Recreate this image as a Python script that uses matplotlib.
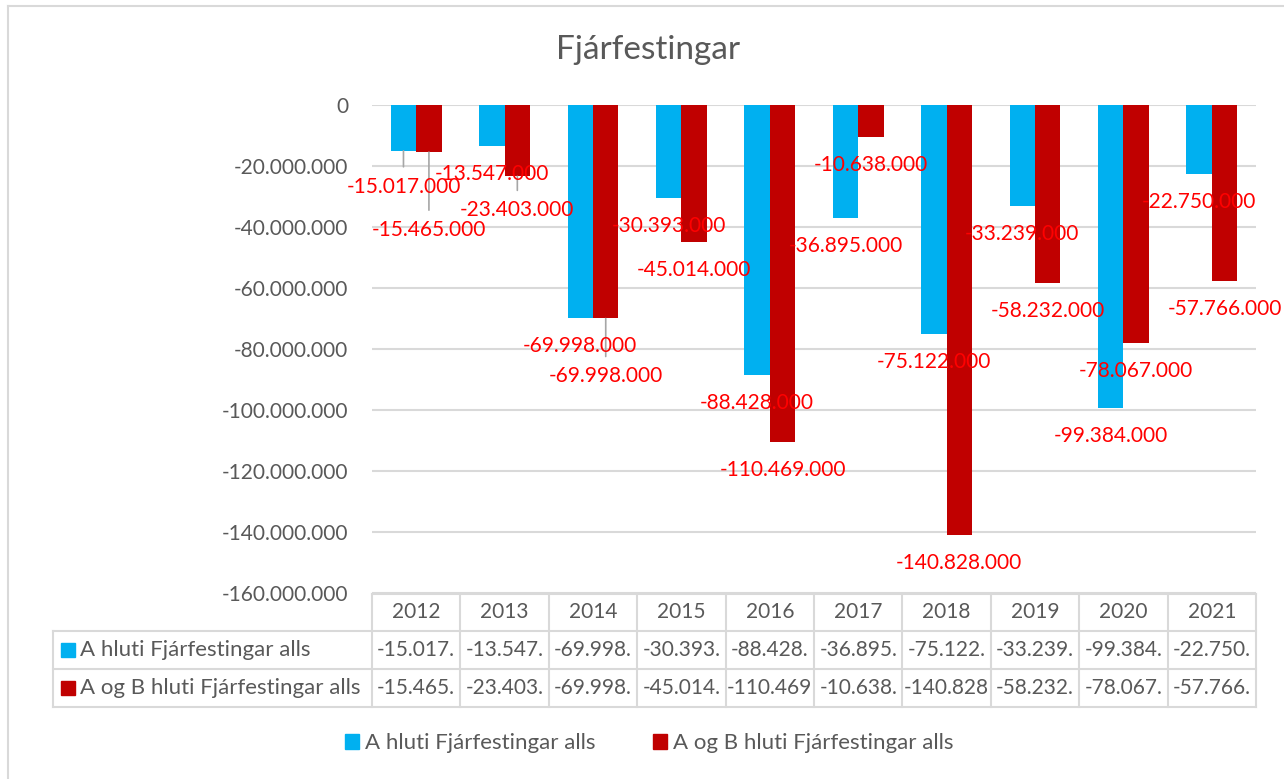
import numpy as np
import matplotlib
matplotlib.use('Agg')
import matplotlib.pyplot as plt
from matplotlib.patches import Patch
from matplotlib.lines import Line2D
from matplotlib.transforms import blended_transform_factory

plt.rcParams['font.family'] = ['Lato', 'DejaVu Sans']

# data
years = ['2012', '2013', '2014', '2015', '2016', '2017', '2018', '2019', '2020', '2021']
a_hluti = [-15017000, -13547000, -69998000, -30393000, -88428000,
           -36895000, -75122000, -33239000, -99384000, -22750000]
a_og_b = [-15465000, -23403000, -69998000, -45014000, -110469000,
          -10638000, -140828000, -58232000, -78067000, -57766000]
series_names = ['A hluti Fjárfestingar alls', 'A og B hluti Fjárfestingar alls']
yticks = [0, -20000000, -40000000, -60000000, -80000000,
          -100000000, -120000000, -140000000, -160000000]

# label drop below bar end (pixels), some labels were moved by hand in excel
drop_a = [36, 28, 28, 28, 28, 28, 28, 28, 28, 28]
drop_b = [78, 34, 58, 28, 28, 28, 28, 28, 28, 28]

blue = '#00B0F0'
red = '#C00000'
grey_txt = '#595959'
grid_c = '#D9D9D9'

def fmt(v):
    return '{:,.0f}'.format(v).replace(',', '.')

W, H = 1284, 779
fig = plt.figure(figsize=(W/100, H/100), dpi=100)
ax = fig.add_axes([372/W, 1-593/H, 884/W, 488/H])

x = np.arange(len(years))
bw = 0.288
ax.bar(x - bw/2, a_hluti, bw, color=blue, zorder=2)
ax.bar(x + bw/2, a_og_b, bw, color=red, zorder=2)

ax.set_xlim(-0.5, len(years) - 0.5)
ax.set_ylim(-160000000, 0)
ax.set_yticks(yticks)
ax.set_yticklabels([fmt(v) for v in yticks], fontsize=15, color=grey_txt)
ax.set_xticks([])
ax.tick_params(axis='y', length=0, pad=17)
ax.grid(axis='y', color=grid_c, lw=1.5, zorder=0)
for s in ax.spines.values():
    s.set_visible(False)

# data labels + leader lines
for vals, off, drops in [(a_hluti, -bw/2, drop_a), (a_og_b, bw/2, drop_b)]:
    for i, v in enumerate(vals):
        ax.annotate(fmt(v), (x[i] + off, v), xytext=(0, -drops[i]),
                    textcoords='offset pixels', ha='center', va='center',
                    fontsize=15, color='#FF0000', zorder=5, annotation_clip=False)
        if drops[i] > 30:
            ax.annotate('', (x[i] + off, v), xytext=(0, -(drops[i] - 20)),
                        textcoords='offset pixels',
                        arrowprops=dict(arrowstyle='-', color='#A6A6A6', lw=1.2,
                                        shrinkA=0, shrinkB=0), zorder=3)

# data table under the axis
tr = blended_transform_factory(ax.transData, ax.transAxes)
def ay(p):
    return (593 - p) / 488.0
left = -0.5 - (372 - 53) / 88.4
right = len(years) - 0.5
y_head_top, y_head_bot, y_r1, y_r2 = ay(594), ay(631), ay(669), ay(707)
lkw = dict(color=grid_c, lw=1.5, transform=tr, clip_on=False)
for yy in [y_head_bot, y_r1, y_r2]:
    ax.plot([left, right], [yy, yy], **lkw)
ax.plot([-0.5, right], [y_head_top, y_head_top], **lkw)
for b in np.arange(-0.5, right + 0.01, 1.0):
    ax.plot([b, b], [y_head_top, y_r2], **lkw)
ax.plot([left, left], [y_head_bot, y_r2], **lkw)

for i, yr in enumerate(years):
    ax.text(x[i], (y_head_top + y_head_bot)/2, yr, transform=tr, ha='center',
            va='center', fontsize=15, color=grey_txt)
rows = [(a_hluti, blue, (y_head_bot + y_r1)/2), (a_og_b, red, (y_r1 + y_r2)/2)]
for (vals, col, yy), name in zip(rows, series_names):
    ax.plot([left + 15/88.4], [yy], marker='s', ms=9.5, color=col,
            transform=tr, clip_on=False, lw=0)
    ax.text(left + 27/88.4, yy, name, transform=tr, ha='left', va='center',
            fontsize=16, color=grey_txt)
    for i, v in enumerate(vals):
        ax.text(x[i], yy, fmt(v)[:8], transform=tr, ha='center', va='center',
                fontsize=15, color=grey_txt)

fig.text(648/W, 1-50/H, 'Fjárfestingar', ha='center', va='center',
         fontsize=24, color=grey_txt)

handles = [Patch(color=blue, label=series_names[0]), Patch(color=red, label=series_names[1])]
fig.legend(handles=handles, loc='center', bbox_to_anchor=(649/W, 1-743/H), ncol=2,
           frameon=False, fontsize=16, labelcolor=grey_txt, handlelength=0.65,
           handleheight=0.65, handletextpad=0.25, columnspacing=2.6)

# chart border
fig.add_artist(Line2D([7.5/W, 7.5/W], [0, 1-6/H], color=grid_c, lw=1.5))
fig.add_artist(Line2D([7.5/W, 1], [1-6/H, 1-6/H], color=grid_c, lw=1.5))

fig.savefig('out.png', dpi=100)
